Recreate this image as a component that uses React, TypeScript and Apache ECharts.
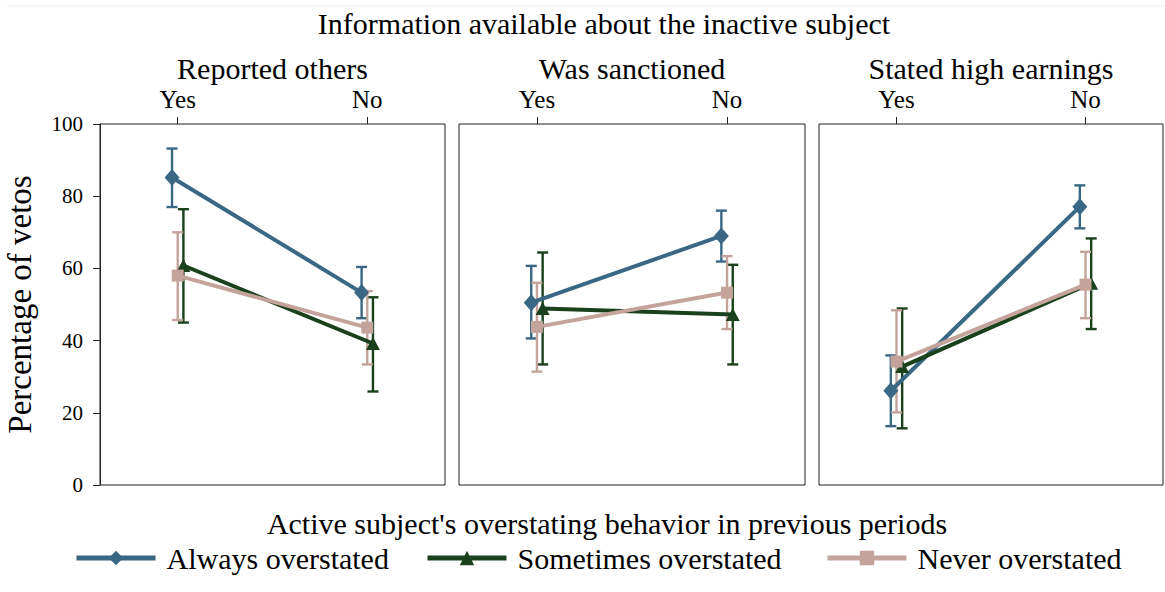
import React, { useEffect, useRef } from "react";
import * as echarts from "echarts";

const mainTitle = "Information available about the inactive subject";
const legendTitle = "Active subject's overstating behavior in previous periods";
const yAxisTitle = "Percentage of vetos";
const panelTitles = ["Reported others", "Was sanctioned", "Stated high earnings"];
const xLabels = ["Yes", "No"];
const xPositions = [0, 1];
const seriesNames = ["Always overstated", "Sometimes overstated", "Never overstated"];

// per panel: [Yes, No]
const alwaysMean = [[85.2, 53.3], [50.5, 69.0], [26.1, 77.1]];
const alwaysLow = [[77.0, 46.2], [40.6, 61.9], [16.3, 71.1]];
const alwaysHigh = [[93.2, 60.4], [60.7, 76.0], [35.9, 83.0]];
const sometimesMean = [[60.8, 39.2], [48.9, 47.2], [32.8, 55.9]];
const sometimesLow = [[45.0, 25.9], [33.4, 33.4], [15.7, 43.2]];
const sometimesHigh = [[76.4, 52.0], [64.4, 61.0], [48.9, 68.3]];
const neverMean = [[58.0, 43.6], [43.8, 53.3], [34.2, 55.5]];
const neverLow = [[45.7, 33.4], [31.4, 43.2], [20.1, 46.2]];
const neverHigh = [[70.0, 53.7], [56.0, 63.4], [48.4, 64.6]];

const means = [alwaysMean, sometimesMean, neverMean];
const lows = [alwaysLow, sometimesLow, neverLow];
const highs = [alwaysHigh, sometimesHigh, neverHigh];

const colors = ["#3a6784", "#1a401c", "#c4a39b"];
const symbols = ["diamond", "triangle", "rect"];
const symbolSizes: any[] = [[15, 17], [14, 13], [12, 12]];
const offsets = [-0.03, 0.03, 0];
const FONT = '"Liberation Serif", "Times New Roman", serif';

const gridLefts = [100, 459, 819];
const gridWidths = [345, 346, 344];
const GRID_TOP = 124;
const GRID_H = 361;

export default function App() {
  const ref = useRef<HTMLDivElement>(null);
  useEffect(() => {
    if (!ref.current) return;
    const chart = echarts.init(ref.current, null, { renderer: "svg" });

    const grids = gridLefts.map((l, i) => ({
      left: l,
      top: GRID_TOP,
      width: gridWidths[i],
      height: GRID_H,
      show: true,
      borderColor: "#222",
      borderWidth: 1,
      backgroundColor: "#fff",
    }));

    const xAxes = gridLefts.map((_, i) => ({
      type: "value",
      gridIndex: i,
      position: "top",
      min: -0.41,
      max: 1.41,
      axisLine: { show: false, onZero: false },
      splitLine: { show: false },
      axisTick: { show: true, customValues: xPositions, length: 7, lineStyle: { color: "#222" } },
      axisLabel: {
        show: true,
        customValues: xPositions,
        formatter: (v: number) => (v === 0 ? xLabels[0] : xLabels[1]),
        fontFamily: FONT,
        fontSize: 25,
        color: "#000",
        margin: 12,
      },
    }));

    const yAxes = gridLefts.map((_, i) => ({
      type: "value",
      gridIndex: i,
      min: 0,
      max: 100,
      interval: 20,
      splitLine: { show: false },
      axisLine: { show: i === 0, onZero: false, lineStyle: { color: "#222" } },
      axisTick: { show: i === 0, length: 7, lineStyle: { color: "#222" } },
      axisLabel: { show: i === 0, fontFamily: FONT, fontSize: 21, color: "#000", margin: 17 },
      name: i === 0 ? yAxisTitle : "",
      nameLocation: "middle",
      nameRotate: 90,
      nameGap: 64,
      nameTextStyle: { fontFamily: FONT, fontSize: 33, color: "#000" },
    }));

    const series: any[] = [];
    for (let p = 0; p < 3; p++) {
      for (let g = 0; g < 3; g++) {
        const color = colors[g];
        series.push({
          type: "custom",
          name: seriesNames[g] + " CI",
          xAxisIndex: p,
          yAxisIndex: p,
          z: 2,
          encode: { x: 0, y: [1, 2] },
          data: xPositions.map((x, k) => [x + offsets[g], lows[g][p][k], highs[g][p][k]]),
          renderItem: (params: any, api: any) => {
            const x = api.value(0);
            const pLo = api.coord([x, api.value(1)]);
            const pHi = api.coord([x, api.value(2)]);
            const hw = 5.5;
            const style = { stroke: color, lineWidth: 2.4 };
            return {
              type: "group",
              children: [
                { type: "line", shape: { x1: pLo[0], y1: pLo[1], x2: pHi[0], y2: pHi[1] }, style },
                { type: "line", shape: { x1: pLo[0] - hw, y1: pLo[1], x2: pLo[0] + hw, y2: pLo[1] }, style },
                { type: "line", shape: { x1: pHi[0] - hw, y1: pHi[1], x2: pHi[0] + hw, y2: pHi[1] }, style },
              ],
            };
          },
        });
      }
      for (let g = 0; g < 3; g++) {
        series.push({
          type: "line",
          name: seriesNames[g],
          xAxisIndex: p,
          yAxisIndex: p,
          z: 3 + g,
          data: xPositions.map((x, k) => [x + offsets[g], means[g][p][k]]),
          symbol: symbols[g],
          symbolSize: symbolSizes[g],
          showSymbol: true,
          lineStyle: { color: colors[g], width: 4 },
          itemStyle: { color: colors[g] },
          emphasis: { disabled: true },
        });
      }
    }

    const legendLefts = [74, 425, 825];
    const legends = seriesNames.map((n, i) => ({
      data: [n],
      left: legendLefts[i],
      top: 543,
      padding: 0,
      itemWidth: 79,
      itemHeight: 18,
      selectedMode: false,
      lineStyle: { width: 5 },
      textStyle: { fontFamily: FONT, fontSize: 30, color: "#000", padding: [0, 0, 0, 6] },
    }));

    const graphic: any[] = [
      { type: "line", shape: { x1: 7, y1: 6, x2: 1165, y2: 6 }, style: { stroke: "#eef3f3", lineWidth: 1 } },
      {
        type: "text",
        x: 604,
        y: 23,
        style: { text: mainTitle, font: `30px ${FONT}`, fill: "#000", textAlign: "center", textVerticalAlign: "middle" },
      },
      ...panelTitles.map((t, i) => ({
        type: "text",
        x: gridLefts[i] + gridWidths[i] / 2,
        y: 68,
        style: { text: t, font: `30px ${FONT}`, fill: "#000", textAlign: "center", textVerticalAlign: "middle" },
      })),
      {
        type: "text",
        x: 607,
        y: 523,
        style: { text: legendTitle, font: `30px ${FONT}`, fill: "#000", textAlign: "center", textVerticalAlign: "middle" },
      },
    ];

    chart.setOption({
      animation: false,
      backgroundColor: "#fff",
      grid: grids,
      xAxis: xAxes,
      yAxis: yAxes,
      series,
      legend: legends,
      graphic,
    });
    return () => chart.dispose();
  }, []);
  return (
    <div
      ref={ref}
      style={{ position: "fixed", left: 0, top: 0, width: 1165, height: 592, background: "#fff" }}
    />
  );
}
